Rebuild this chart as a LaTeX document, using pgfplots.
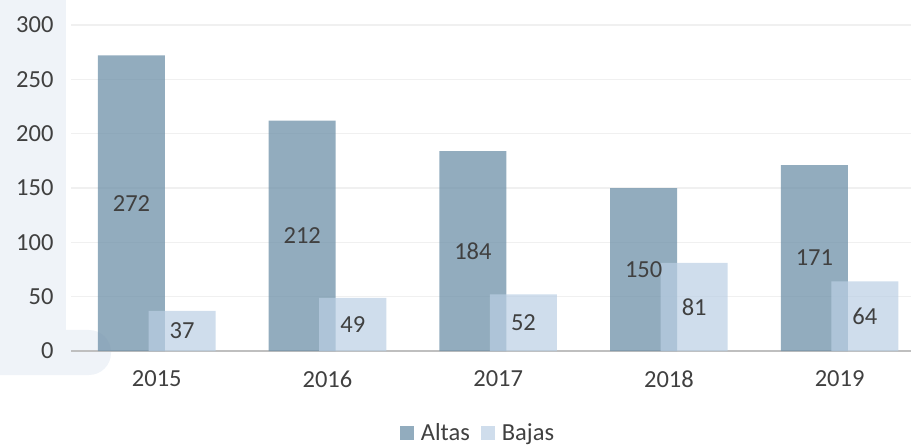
\documentclass[border=0pt]{standalone}
\usepackage{fontspec}
\setmainfont{Carlito}
\usepackage{pgfplots}
\pgfplotsset{compat=1.18}
\definecolor{altas}{RGB}{110,144,168}
\definecolor{bajas}{RGB}{186,207,228}
\definecolor{txt}{RGB}{64,64,64}
\definecolor{panel}{RGB}{239,243,248}
\definecolor{gridc}{RGB}{240,240,240}
\definecolor{axisc}{RGB}{191,191,191}
\begin{document}
\begin{tikzpicture}[font=\fontsize{24.5}{29}\selectfont]
\useasboundingbox (0pt,0pt) rectangle (911pt,445pt);
\fill[panel] (0pt,70pt) rectangle (66pt,445pt);
\fill[panel, rounded corners=22pt] (-40pt,70pt) rectangle (111pt,115pt);
\begin{axis}[
  at={(71.4pt,94pt)}, anchor=south west,
  scale only axis, width=839.6pt, height=326pt,
  xmin=-0.5, xmax=4.418, ymin=0, ymax=300,
  ytick={0,50,...,300},
  xtick={0,...,4}, xticklabels={2015,2016,2017,2018,2019},
  ymajorgrids, grid style={gridc, line width=1.5pt},
  axis x line*=bottom, axis y line*=left,
  x axis line style={axisc, line width=2.5pt, -},
  y axis line style={draw=none},
  major tick length=0pt,
  tick label style={text=txt},
  /pgf/number format/assume math mode=true,
  yticklabel style={anchor=east, xshift=-14.4pt},
  xticklabel style={anchor=north, yshift=-16pt},
  clip=false,
  legend style={at={(0.4843,-0.2515)}, anchor=center, draw=none, fill=none,
    legend columns=-1, text=txt, nodes={inner ysep=1pt}, inner ysep=0pt,
    /tikz/every odd column/.append style={column sep=0pt},
    /tikz/every even column/.append style={column sep=9pt}},
  visualization depends on={rawy \as \rawy},
  nodes near coords,
]
\addplot[ybar, bar width=0.3925, bar shift=-0.148, fill=altas, fill opacity=0.75, draw=none,
  every node near coord/.append style={anchor=center, text=txt, text opacity=1,
    shift={(axis direction cs:-0.148,-\rawy/2)}},
  legend image code/.code={\fill[altas, fill opacity=0.75] (0pt,-7pt) rectangle (14pt,7pt);\path (19pt,0pt);}]
  coordinates {(0,272) (1,212) (2,184) (3,150) (4,171)};
\addlegendentry{Altas}
\addplot[ybar, bar width=0.3925, bar shift=0.148, fill=bajas, fill opacity=0.7, draw=none,
  every node near coord/.append style={anchor=center, text=txt, text opacity=1,
    shift={(axis direction cs:0.148,-\rawy/2)}},
  legend image code/.code={\fill[bajas, fill opacity=0.7] (0pt,-7pt) rectangle (14pt,7pt);\path (19pt,0pt);}]
  coordinates {(0,37) (1,49) (2,52) (3,81) (4,64)};
\addlegendentry{Bajas}
\end{axis}
\end{tikzpicture}
\end{document}
